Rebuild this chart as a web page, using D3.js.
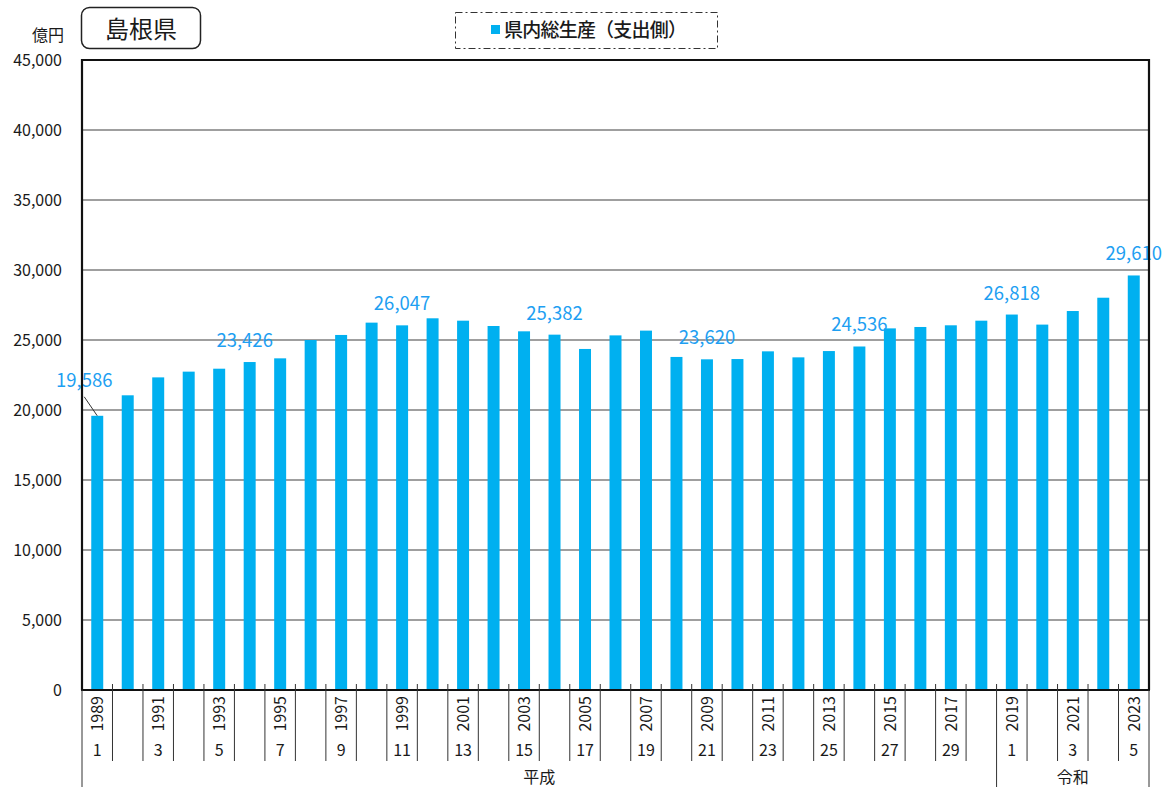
<!DOCTYPE html>
<html>
<head>
<meta charset="utf-8">
<script src="https://cdn.jsdelivr.net/npm/d3@7"></script>
<style>
  body { margin: 0; background: #fff; }
  svg text { font-family: "Noto Sans CJK JP", "Noto Sans", sans-serif; fill: #1a1a1a; }
</style>
</head>
<body>
<div id="chart"></div>
<script>
// data (億円)
const years = [1989, 1990, 1991, 1992, 1993, 1994, 1995, 1996, 1997, 1998,
  1999, 2000, 2001, 2002, 2003, 2004, 2005, 2006, 2007, 2008,
  2009, 2010, 2011, 2012, 2013, 2014, 2015, 2016, 2017, 2018,
  2019, 2020, 2021, 2022, 2023];
const values = [19586, 21050, 22330, 22740, 22950, 23426, 23690, 25000, 25360, 26240,
  26047, 26550, 26380, 26000, 25620, 25382, 24360, 25330, 25670, 23790,
  23620, 23640, 24190, 23760, 24210, 24536, 25830, 25930, 26050, 26380,
  26818, 26100, 27070, 28020, 29610];
const labeledYears = [1989, 1994, 1999, 2004, 2009, 2014, 2019, 2023];
const yTicks = [0, 5000, 10000, 15000, 20000, 25000, 30000, 35000, 40000, 45000];
const eraNames = ["平成", "令和"];
const eraStart = [1989, 2019];
const eraEnd = [2018, 2023];
const title = "島根県";
const unit = "億円";
const seriesName = "県内総生産（支出側）";

const W = 1170, H = 787;
const plot = {left: 82, right: 1149, top: 60, bottom: 690};
const barColor = "#00B0F0";
const labelColor = "#1E9FF2";

const svg = d3.select("#chart").append("svg")
    .attr("width", W)
    .attr("height", H);

const x = d3.scaleBand()
    .domain(years)
    .range([plot.left, plot.right])
    .paddingInner(0.607)
    .paddingOuter(0.3035);
const step = x.step();

const y = d3.scaleLinear()
    .domain([0, 45000])
    .range([plot.bottom, plot.top]);

// gridlines
svg.append("g")
    .selectAll("line")
    .data(yTicks.filter(d => d > 0 && d < 45000))
    .join("line")
      .attr("x1", plot.left)
      .attr("x2", plot.right)
      .attr("y1", d => y(d))
      .attr("y2", d => y(d))
      .attr("stroke", "#7f7f7f")
      .attr("stroke-width", 1.3);

// y tick labels
svg.append("g")
    .selectAll("text")
    .data(yTicks)
    .join("text")
      .attr("x", 62)
      .attr("y", d => y(d))
      .attr("dy", "0.36em")
      .attr("text-anchor", "end")
      .attr("font-size", 16)
      .text(d => d3.format(",")(d));

svg.append("text")
    .attr("x", 64)
    .attr("y", 35)
    .attr("dy", "0.36em")
    .attr("text-anchor", "end")
    .attr("font-size", 16)
    .text(unit);

// bars
svg.append("g")
    .selectAll("rect")
    .data(years)
    .join("rect")
      .attr("x", d => x(d))
      .attr("width", x.bandwidth())
      .attr("y", (d, i) => y(values[i]))
      .attr("height", (d, i) => y(0) - y(values[i]))
      .attr("fill", barColor);

// data labels
const labelled = years.map((d, i) => ({year: d, value: values[i]}))
    .filter(d => labeledYears.includes(d.year));
svg.append("g")
    .selectAll("text")
    .data(labelled)
    .join("text")
      .attr("x", d => x(d.year) + x.bandwidth() / 2 + (d.year === years[0] ? -13 : (d.year === 1994 ? -5 : 0)))
      .attr("y", d => y(d.value) - (d.year === years[0] ? 29 : 15))
      .attr("text-anchor", "middle")
      .attr("font-size", 18.5)
      .style("fill", labelColor)
      .text(d => d3.format(",")(d.value));

// leader line for the first label
svg.append("line")
    .attr("x1", x(years[0]) + x.bandwidth() / 2 - 13)
    .attr("y1", y(values[0]) - 19)
    .attr("x2", x(years[0]) + x.bandwidth() / 2)
    .attr("y2", y(values[0]))
    .attr("stroke", "#333")
    .attr("stroke-width", 1);

// plot frame
svg.append("path")
    .attr("d", `M${plot.left},${plot.bottom}V${plot.top}H${plot.right}V${plot.bottom}`)
    .attr("fill", "none")
    .attr("stroke", "#111")
    .attr("stroke-width", 2.2);
svg.append("line")
    .attr("x1", plot.left - 1)
    .attr("x2", plot.right + 1)
    .attr("y1", plot.bottom)
    .attr("y2", plot.bottom)
    .attr("stroke", "#111")
    .attr("stroke-width", 2.2);

// category separators
const axisG = svg.append("g");
const bounds = years.slice(1).map(d => x(d) - (step - x.bandwidth()) / 2);
axisG.selectAll("line.sep")
    .data(bounds)
    .join("line")
      .attr("class", "sep")
      .attr("x1", d => d)
      .attr("x2", d => d)
      .attr("y1", plot.bottom - 6)
      .attr("y2", (d, i) => years[i + 1] === eraStart[1] ? H : 761)
      .attr("stroke", "#333")
      .attr("stroke-width", 1);
[plot.left, plot.right].forEach(px => {
  axisG.append("line")
      .attr("x1", px).attr("x2", px)
      .attr("y1", plot.bottom)
      .attr("y2", H)
      .attr("stroke", "#333")
      .attr("stroke-width", 1);
});

// year labels (rotated) and era year numbers
const tickYears = years.filter((d, i) => i % 2 === 0);
axisG.selectAll("text.yr")
    .data(tickYears)
    .join("text")
      .attr("class", "yr")
      .attr("transform", d => `translate(${x(d) + x.bandwidth() / 2}, 696) rotate(-90)`)
      .attr("dy", "0.36em")
      .attr("text-anchor", "end")
      .attr("font-size", 16)
      .text(d => d);

axisG.selectAll("text.wareki")
    .data(tickYears)
    .join("text")
      .attr("class", "wareki")
      .attr("x", d => x(d) + x.bandwidth() / 2)
      .attr("y", 750)
      .attr("dy", "0.36em")
      .attr("text-anchor", "middle")
      .attr("font-size", 16)
      .text(d => {
        const e = d >= eraStart[1] ? 1 : 0;
        return d - eraStart[e] + 1;
      });

axisG.selectAll("text.era")
    .data(eraNames)
    .join("text")
      .attr("class", "era")
      .attr("x", (d, i) => (x(eraStart[i]) - (step - x.bandwidth()) / 2 + x(eraEnd[i]) + x.bandwidth() + (step - x.bandwidth()) / 2) / 2)
      .attr("y", 777)
      .attr("dy", "0.36em")
      .attr("text-anchor", "middle")
      .attr("font-size", 16)
      .text(d => d);

// title box
svg.append("rect")
    .attr("x", 81.5)
    .attr("y", 7.5)
    .attr("width", 119)
    .attr("height", 41)
    .attr("rx", 8)
    .attr("fill", "#fff")
    .attr("stroke", "#222")
    .attr("stroke-width", 1.5);
svg.append("text")
    .attr("x", 141)
    .attr("y", 29)
    .attr("dy", "0.36em")
    .attr("text-anchor", "middle")
    .attr("font-size", 24)
    .text(title);

// legend
svg.append("rect")
    .attr("x", 455.5)
    .attr("y", 12.5)
    .attr("width", 262)
    .attr("height", 36)
    .attr("fill", "#fff")
    .attr("stroke", "#333")
    .attr("stroke-width", 1)
    .attr("stroke-dasharray", "7,3,2,3");
svg.append("rect")
    .attr("x", 491)
    .attr("y", 25)
    .attr("width", 9)
    .attr("height", 9)
    .attr("fill", barColor);
svg.append("text")
    .attr("x", 504)
    .attr("y", 30)
    .attr("dy", "0.36em")
    .attr("font-size", 19)
    .attr("font-weight", 500)
    .attr("textLength", 183)
    .text(seriesName);
</script>
</body>
</html>
